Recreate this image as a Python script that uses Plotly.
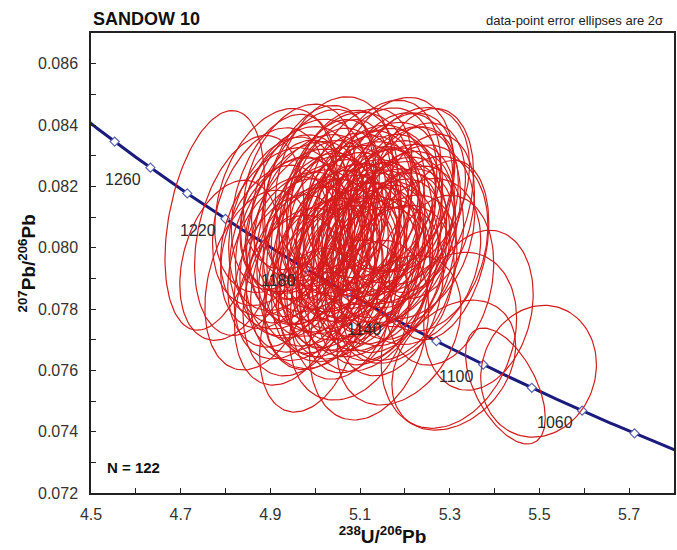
import numpy as np
import plotly.graph_objects as go

# ---- Zircon analyses: 238U/206Pb, 207Pb/206Pb, 2-sigma errors, error correlation ----
u238_pb206 = [
    5.498, 5.424, 5.309, 4.987, 4.776, 4.853, 4.909, 5.009, 5.176, 5.231,
    5.276, 5.298, 5.076, 5.187, 5.276, 4.876, 4.809, 5.120, 4.942, 5.364,
    4.964, 5.042, 5.098, 5.153, 5.209,
    4.931, 4.987, 5.031, 5.076, 5.120, 5.176, 5.220,
    4.898, 4.953, 4.998, 5.042, 5.087, 5.131, 5.164, 5.198, 5.242,
    4.920, 4.964, 5.009, 5.053, 5.087, 5.120, 5.153, 5.187, 5.220,
    4.909, 4.942, 4.987, 5.020, 5.064, 5.098, 5.131, 5.164, 5.209, 5.253,
    4.931, 4.964, 5.009, 5.042, 5.076, 5.109, 5.142, 5.176, 5.231,
    4.942, 4.987, 5.031, 5.064, 5.098, 5.142, 5.187,
    4.964, 5.020, 5.064, 5.120, 5.164,
    5.009, 5.064, 5.138, 5.187,
    4.964, 5.053, 5.102, 5.149, 5.198,
    4.931, 4.976, 5.020, 5.064, 5.109, 5.147, 5.182,
    4.942, 4.987, 5.031, 5.071, 5.102, 5.138, 5.176,
    4.960, 5.004, 5.049, 5.080, 5.116, 5.149, 5.191,
    4.976, 5.020, 5.058, 5.093, 5.124, 5.164,
    5.009, 5.049, 5.087, 5.131, 5.176,
]
pb207_pb206 = [
    0.07597, 0.07549, 0.07617, 0.07731, 0.08089, 0.08040, 0.08154, 0.08171, 0.08203, 0.08154,
    0.07894, 0.07698, 0.07764, 0.07731, 0.07992, 0.07894, 0.07959, 0.07731, 0.07829, 0.07796,
    0.08198, 0.08211, 0.08192, 0.08206, 0.08189,
    0.08149, 0.08160, 0.08146, 0.08158, 0.08151, 0.08163, 0.08144,
    0.08101, 0.08112, 0.08099, 0.08109, 0.08103, 0.08114, 0.08097, 0.08108, 0.08102,
    0.08052, 0.08063, 0.08050, 0.08061, 0.08054, 0.08066, 0.08049, 0.08059, 0.08052,
    0.08003, 0.08014, 0.08001, 0.08012, 0.08005, 0.08016, 0.07999, 0.08010, 0.08004, 0.08013,
    0.07954, 0.07965, 0.07952, 0.07963, 0.07956, 0.07968, 0.07951, 0.07962, 0.07955,
    0.07905, 0.07916, 0.07903, 0.07914, 0.07907, 0.07918, 0.07902,
    0.07856, 0.07867, 0.07854, 0.07865, 0.07858,
    0.08172, 0.08183, 0.08170, 0.08181,
    0.08123, 0.08134, 0.08121, 0.08132, 0.08125,
    0.08078, 0.08089, 0.08076, 0.08087, 0.08080, 0.08091, 0.08077,
    0.08026, 0.08037, 0.08024, 0.08035, 0.08028, 0.08039, 0.08025,
    0.07980, 0.07991, 0.07978, 0.07989, 0.07982, 0.07993, 0.07979,
    0.07928, 0.07939, 0.07926, 0.07937, 0.07930, 0.07941,
    0.07879, 0.07890, 0.07877, 0.07888, 0.07881,
]
err_u238 = [
    0.129, 0.089, 0.138, 0.111, 0.111, 0.122, 0.133, 0.122, 0.133, 0.122,
    0.122, 0.151, 0.133, 0.138, 0.111, 0.122, 0.111, 0.133, 0.122, 0.122,
    0.124, 0.131, 0.118, 0.127, 0.135,
    0.118, 0.129, 0.112, 0.140, 0.124, 0.131, 0.115,
    0.127, 0.121, 0.134, 0.116, 0.129, 0.138, 0.119, 0.126, 0.113,
    0.131, 0.117, 0.125, 0.139, 0.122, 0.114, 0.130, 0.123, 0.136,
    0.120, 0.133, 0.117, 0.128, 0.124, 0.137, 0.115, 0.129, 0.122, 0.132,
    0.126, 0.119, 0.135, 0.121, 0.128, 0.116, 0.133, 0.124, 0.138,
    0.123, 0.131, 0.118, 0.127, 0.134, 0.120, 0.129,
    0.125, 0.132, 0.119, 0.136, 0.122,
    0.126, 0.119, 0.133, 0.124,
    0.130, 0.117, 0.128, 0.135, 0.121,
    0.124, 0.132, 0.118, 0.127, 0.136, 0.122, 0.129,
    0.120, 0.133, 0.125, 0.117, 0.131, 0.124, 0.137,
    0.128, 0.121, 0.134, 0.119, 0.126, 0.132, 0.123,
    0.130, 0.118, 0.127, 0.135, 0.121, 0.129,
    0.124, 0.131, 0.119, 0.127, 0.134,
]
err_pb207 = [
    0.00215, 0.00189, 0.00212, 0.00267, 0.00358, 0.00326, 0.00300, 0.00293, 0.00287, 0.00300,
    0.00277, 0.00287, 0.00261, 0.00244, 0.00293, 0.00293, 0.00261, 0.00293, 0.00277, 0.00261,
    0.00270, 0.00281, 0.00262, 0.00275, 0.00268,
    0.00286, 0.00259, 0.00272, 0.00284, 0.00249, 0.00277, 0.00263,
    0.00290, 0.00256, 0.00270, 0.00281, 0.00262, 0.00275, 0.00252, 0.00286, 0.00268,
    0.00274, 0.00288, 0.00259, 0.00270, 0.00281, 0.00264, 0.00277, 0.00255, 0.00283,
    0.00266, 0.00279, 0.00253, 0.00287, 0.00269, 0.00258, 0.00280, 0.00271, 0.00262, 0.00285,
    0.00278, 0.00260, 0.00273, 0.00289, 0.00257, 0.00276, 0.00265, 0.00282, 0.00271,
    0.00268, 0.00284, 0.00259, 0.00277, 0.00263, 0.00286, 0.00270,
    0.00274, 0.00261, 0.00283, 0.00268, 0.00276,
    0.00279, 0.00265, 0.00286, 0.00258,
    0.00272, 0.00284, 0.00261, 0.00277, 0.00269,
    0.00283, 0.00257, 0.00274, 0.00288, 0.00266, 0.00279, 0.00260,
    0.00271, 0.00285, 0.00263, 0.00276, 0.00259, 0.00282, 0.00270,
    0.00267, 0.00280, 0.00258, 0.00287, 0.00272, 0.00264, 0.00278,
    0.00269, 0.00284, 0.00261, 0.00275, 0.00266, 0.00283,
    0.00277, 0.00262, 0.00285, 0.00270, 0.00258,
]
err_corr = [
    0.10, -0.55, 0.30, 0.30, 0.35, 0.30, 0.30, 0.25, 0.25, 0.30,
    0.20, 0.25, 0.25, 0.30, 0.30, 0.30, 0.30, 0.25, 0.30, 0.20,
    0.28, 0.22, 0.33, 0.25, 0.30,
    0.31, 0.27, 0.35, 0.20, 0.29, 0.24, 0.32,
    0.30, 0.26, 0.31, 0.23, 0.34, 0.27, 0.30, 0.22, 0.29,
    0.33, 0.25, 0.30, 0.21, 0.28, 0.35, 0.26, 0.31, 0.24,
    0.30, 0.27, 0.32, 0.23, 0.29, 0.34, 0.25, 0.30, 0.27, 0.21,
    0.31, 0.26, 0.30, 0.24, 0.33, 0.28, 0.22, 0.30, 0.26,
    0.29, 0.32, 0.25, 0.30, 0.23, 0.28, 0.33,
    0.27, 0.31, 0.24, 0.29, 0.26,
    0.30, 0.25, 0.28, 0.32,
    0.27, 0.31, 0.24, 0.29, 0.33,
    0.28, 0.31, 0.26, 0.30, 0.23, 0.29, 0.32,
    0.30, 0.25, 0.31, 0.27, 0.33, 0.24, 0.29,
    0.31, 0.26, 0.30, 0.23, 0.28, 0.32, 0.27,
    0.29, 0.33, 0.25, 0.30, 0.27, 0.31,
    0.28, 0.32, 0.26, 0.30, 0.24,
]

# Concordia age marks (Ma) and which of them carry a label
marker_ages = [1040, 1060, 1080, 1100, 1120, 1140, 1160, 1180, 1200, 1220, 1240, 1260, 1280]
label_ages = [1060, 1100, 1140, 1180, 1220, 1260]

LAMBDA_238 = 1.55125e-10
LAMBDA_235 = 9.8485e-10
U238_U235 = 137.88


def tera_wasserburg(age_ma):
    t = np.asarray(age_ma, dtype=float) * 1e6
    e238 = np.exp(LAMBDA_238 * t) - 1.0
    e235 = np.exp(LAMBDA_235 * t) - 1.0
    return 1.0 / e238, e235 / (U238_U235 * e238)


# Error ellipses as one trace, separated by gaps
theta = np.linspace(0, 2 * np.pi, 121)
ex, ey = [], []
for cx, cy, sx, sy, r in zip(u238_pb206, pb207_pb206, err_u238, err_pb207, err_corr):
    xs = cx + sx * np.cos(theta)
    ys = cy + sy * (r * np.cos(theta) + np.sqrt(1 - r * r) * np.sin(theta))
    ex.extend(xs.tolist() + [None])
    ey.extend(ys.tolist() + [None])

curve_x, curve_y = tera_wasserburg(np.linspace(1000, 1320, 400))
mark_x, mark_y = tera_wasserburg(marker_ages)
lab_x, lab_y = tera_wasserburg(label_ages)

FONT = "Liberation Sans, Arial"

fig = go.Figure()
fig.add_trace(go.Scatter(x=curve_x, y=curve_y, mode="lines",
                         line=dict(color="#1b1b7d", width=3), hoverinfo="skip"))
fig.add_trace(go.Scatter(x=mark_x, y=mark_y, mode="markers",
                         marker=dict(symbol="diamond", size=7, color="white",
                                     line=dict(color="#5563b0", width=1.2)),
                         hoverinfo="skip"))
fig.add_trace(go.Scatter(x=ex, y=ey, mode="lines",
                         line=dict(color="#d41c1c", width=1.2), hoverinfo="skip"))

for a, x, y in zip(label_ages, lab_x, lab_y):
    fig.add_annotation(x=x, y=y, text=str(a), showarrow=False, xshift=-27, yshift=-12,
                       font=dict(family=FONT, size=16, color="#2a2a2a"))

fig.add_annotation(x=4.532, y=0.07283, text="<b>N = 122</b>", showarrow=False,
                   xanchor="left", yanchor="middle",
                   font=dict(family=FONT, size=15, color="#111"))
fig.add_annotation(xref="paper", yref="paper", x=0.0, y=1.03, text="<b>SANDOW 10</b>",
                   showarrow=False, xanchor="left", yanchor="middle",
                   font=dict(family=FONT, size=18, color="#111"))
fig.add_annotation(xref="paper", yref="paper", x=0.985, y=1.028,
                   text="data-point error ellipses are 2σ", showarrow=False,
                   xanchor="right", yanchor="middle",
                   font=dict(family=FONT, size=13, color="#222"))
# vertical axis title
fig.add_annotation(xref="paper", yref="paper", x=-0.109, y=0.5,
                   text="<b><sup>207</sup>Pb/<sup>206</sup>Pb</b>", textangle=-90,
                   showarrow=False, xanchor="center", yanchor="middle",
                   font=dict(family=FONT, size=19, color="#111"))

axis_font = dict(family=FONT, size=16, color="#333")
fig.update_layout(
    width=677, height=550,
    margin=dict(l=91, r=1, t=33, b=57),
    paper_bgcolor="white", plot_bgcolor="white",
    showlegend=False, hovermode=False,
    xaxis=dict(range=[4.5, 5.8], tick0=4.5, dtick=0.2, tickformat=".1f",
               ticks="inside", ticklen=5, tickwidth=1, tickcolor="#222",
               minor=dict(dtick=0.1, ticks="inside", ticklen=5, tickcolor="#222"),
               showline=True, linecolor="#222", linewidth=1.5, mirror=True,
               showgrid=False, zeroline=False, tickfont=axis_font,
               ticklabelstandoff=6,
               title=dict(text="<b><sup>238</sup>U/<sup>206</sup>Pb</b>", standoff=8,
                          font=dict(family=FONT, size=19, color="#111"))),
    yaxis=dict(range=[0.072, 0.087], tick0=0.072, dtick=0.002, tickformat=".3f",
               ticks="inside", ticklen=5, tickwidth=1, tickcolor="#222",
               minor=dict(dtick=0.001, ticks="inside", ticklen=5, tickcolor="#222"),
               showline=True, linecolor="#222", linewidth=1.5, mirror=True,
               showgrid=False, zeroline=False, tickfont=axis_font,
               ticklabelstandoff=8),
)

fig.write_html("out.html")
